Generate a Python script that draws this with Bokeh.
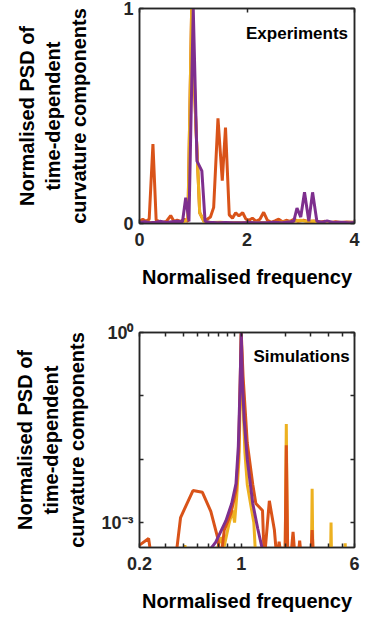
from bokeh.plotting import figure
from bokeh.layouts import column
from bokeh.models import FixedTicker, LinearAxis, LogAxis, Label
from bokeh.embed import file_html
from bokeh.resources import INLINE

# ---------------- data: experiments (linear axes) ----------------
exp_orange_x = [0.00, 0.06, 0.12, 0.18, 0.25, 0.31, 0.37, 0.43, 0.50, 0.58,
                0.64, 0.70, 0.77, 0.83, 0.90, 0.97, 1.05, 1.12, 1.20, 1.26,
                1.32, 1.38, 1.46, 1.54, 1.60, 1.67, 1.73, 1.79, 1.85, 1.92,
                1.98, 2.04, 2.10, 2.17, 2.24, 2.31, 2.38, 2.45, 2.52, 2.59,
                2.66, 2.73, 2.80, 2.88, 2.95, 3.05, 3.15, 3.25, 3.35, 3.45,
                3.55, 3.65, 3.75, 3.85, 4.00]
exp_orange_y = [0.010, 0.020, 0.010, 0.020, 0.370, 0.015, 0.010, 0.005, 0.010, 0.037,
                0.010, 0.015, 0.010, 0.020, 0.010, 1.000, 0.450, 0.050, 0.010, 0.020,
                0.030, 0.075, 0.489, 0.199, 0.446, 0.040, 0.025, 0.050, 0.035, 0.050,
                0.020, 0.015, 0.025, 0.010, 0.020, 0.052, 0.015, 0.005, 0.012, 0.020,
                0.008, 0.015, 0.010, 0.020, 0.010, 0.015, 0.008, 0.012, 0.006, 0.010,
                0.005, 0.008, 0.005, 0.007, 0.006]

exp_yellow_x = [0.00, 0.15, 0.30, 0.45, 0.60, 0.75, 0.84, 0.90, 0.97, 1.05,
                1.12, 1.20, 1.35, 1.50, 1.65, 1.80, 2.00, 2.20, 2.40, 2.60,
                2.80, 3.00, 3.10, 3.20, 3.40, 3.60, 3.80, 4.00]
exp_yellow_y = [0.004, 0.006, 0.003, 0.005, 0.004, 0.006, 0.010, 0.020, 1.000, 0.450,
                0.050, 0.008, 0.005, 0.006, 0.004, 0.005, 0.003, 0.005, 0.004, 0.006,
                0.008, 0.015, 0.010, 0.012, 0.005, 0.004, 0.005, 0.003]

exp_purple_x = [0.00, 0.10, 0.20, 0.30, 0.40, 0.50, 0.60, 0.70, 0.80, 0.86, 0.92,
                1.00, 1.07, 1.16, 1.22, 1.30,
                1.45, 1.60, 1.75, 1.90, 2.05, 2.20, 2.35, 2.50, 2.65, 2.80,
                2.87, 2.93, 3.00, 3.07, 3.15, 3.22, 3.30, 3.40, 3.49, 3.60,
                3.75, 3.90, 4.00]
exp_purple_y = [0.005, 0.008, 0.004, 0.006, 0.010, 0.005, 0.008, 0.010, 0.008, 0.120, 0.010,
                1.000, 0.290, 0.245, 0.010, 0.006,
                0.004, 0.005, 0.003, 0.004, 0.005, 0.003, 0.004, 0.006, 0.004, 0.008,
                0.010, 0.072, 0.030, 0.145, 0.010, 0.145, 0.010, 0.006, 0.012, 0.005,
                0.006, 0.004, 0.005]

# ---------------- data: simulations (log axes) ----------------
sim_orange_x = [0.200, 0.231, 0.243, 0.300, 0.353, 0.383, 0.466, 0.541, 0.618, 0.687,
                0.724, 0.764, 0.850, 0.920, 0.960, 1.000, 1.030, 1.100, 1.200, 1.260,
                1.400, 1.440, 1.560, 1.690, 1.760, 1.820, 1.900, 2.000, 2.040, 2.090,
                2.180, 2.270, 2.350, 2.450, 2.520, 2.600, 2.900, 3.000, 3.070, 3.140,
                3.600, 4.200, 5.000, 6.000]
sim_orange_y = [4.4e-4, 5.6e-4, 2.5e-4, 2.0e-4, 2.5e-4, 1.2e-3, 3.2e-3, 3.0e-3, 1.5e-3, 5.9e-4,
                2.5e-4, 7.6e-4, 1.4e-3, 3.2e-3, 1.3e-2, 1.0, 2.0e-1, 1.8e-2, 4.0e-3, 2.0e-3,
                1.55e-3, 2.5e-4, 2.2e-3, 7.6e-4, 2.5e-4, 5.0e-4, 2.5e-4, 2.5e-4, 1.66e-2, 2.5e-4,
                2.5e-4, 7.1e-4, 2.5e-4, 2.5e-4, 5.2e-4, 2.5e-4, 2.5e-4, 2.5e-4, 7.6e-4, 2.5e-4,
                2.0e-4, 2.5e-4, 2.0e-4, 2.5e-4]

sim_yellow_x = [0.200, 0.390, 0.410, 0.430, 0.650, 0.724, 0.760, 0.826, 0.873, 0.900,
                0.930, 0.965, 0.985, 1.000, 1.020, 1.060, 1.100, 1.170, 1.220, 1.260,
                2.000, 2.040, 2.080, 3.030, 3.070, 3.110, 4.100, 4.140, 4.180, 5.140,
                5.180, 5.220, 6.000]
sim_yellow_y = [2.0e-4, 2.0e-4, 4.4e-4, 2.0e-4, 2.5e-4, 5.9e-4, 4.0e-4, 9.8e-4, 1.55e-3, 1.0e-3,
                2.5e-3, 1.0e-2, 1.0e-1, 1.0, 1.26e-1, 1.26e-2, 4.0e-3, 1.74e-3, 1.0e-3, 2.5e-4,
                2.0e-4, 3.6e-2, 2.0e-4, 2.0e-4, 3.4e-3, 2.0e-4, 2.0e-4, 1.0e-3, 2.0e-4, 2.0e-4,
                4.7e-4, 2.0e-4, 2.0e-4]

sim_purple_x = [0.580, 0.668, 0.785, 0.860, 0.920, 0.955, 0.980, 1.000, 1.020, 1.048,
                1.100, 1.200, 1.300, 1.420]
sim_purple_y = [3.2e-4, 4.9e-4, 1.07e-3, 2.0e-3, 4.1e-3, 1.6e-2, 1.26e-1, 1.0, 1.6e-1, 4.1e-2,
                1.0e-2, 2.0e-3, 7.9e-4, 3.2e-4]

# ---------------- ticks / labels ----------------
exp_xticks = [0, 2, 4]
exp_yticks = [0, 1]
sim_xticks = [0.2, 1, 6]
sim_xminor = [0.3, 0.4, 0.5, 0.6, 0.7, 0.8, 0.9, 2, 3, 4, 5]
sim_yticks = [1e-3, 1]
sim_yminor = [1e-2, 1e-1]
sim_ylabels = {1e-3: "10\u207b\u00b3", 1: "10\u2070"}
sim_xlabels = {0.2: "0.2", 1: "1", 6: "6"}

ylab = "Normalised PSD of\ntime-dependent\ncurvature components"
xlab = "Normalised frequency"

ORANGE = "#D95319"
YELLOW = "#EDB120"
PURPLE = "#7E2F8E"
AX = "#262626"
FONT = "Liberation Sans"
LW = 3


def tick_style(ax):
    ax.axis_line_color = AX
    ax.axis_line_width = 1.5
    ax.major_tick_line_color = AX
    ax.minor_tick_line_color = AX
    ax.major_tick_line_width = 1.5
    ax.minor_tick_line_width = 1.5
    ax.major_tick_in = 4
    ax.major_tick_out = 0
    ax.minor_tick_in = 4
    ax.minor_tick_out = 0


def style(p, ylabel_standoff):
    p.grid.visible = False
    p.outline_line_color = AX
    p.outline_line_width = 1.5
    for ax in p.xaxis + p.yaxis:
        tick_style(ax)
        ax.major_label_text_font = FONT
        ax.major_label_text_font_style = "bold"
        ax.major_label_text_font_size = "18px"
        ax.major_label_text_color = AX
        ax.axis_label_text_font = FONT
        ax.axis_label_text_font_style = "bold"
        ax.axis_label_text_font_size = "20px"
        ax.axis_label_text_color = "black"
    p.xaxis.major_label_standoff = 9
    p.xaxis.axis_label_standoff = 17
    p.yaxis.major_label_standoff = 6
    p.yaxis.axis_label_standoff = ylabel_standoff
    p.xaxis.axis_label = xlab
    p.yaxis.axis_label = ylab


def mirror(p, AxisCls, xt, yt):
    # tick marks only (no labels) on the top and right edges
    top = AxisCls(ticker=FixedTicker(ticks=[], minor_ticks=xt))
    right = AxisCls(ticker=FixedTicker(ticks=[], minor_ticks=yt))
    for ax in (top, right):
        tick_style(ax)
        ax.major_label_standoff = 0
        ax.axis_label = None
    p.add_layout(top, "above")
    p.add_layout(right, "right")


# ---------------- top: experiments ----------------
p1 = figure(width=378, height=300, x_range=(0, 4), y_range=(0, 1),
            output_backend="svg", toolbar_location=None,
            min_border_left=139, min_border_right=24,
            min_border_top=8, min_border_bottom=77)
p1.line(exp_orange_x, exp_orange_y, color=ORANGE, line_width=LW)
p1.line(exp_yellow_x, exp_yellow_y, color=YELLOW, line_width=LW)
p1.line(exp_purple_x, exp_purple_y, color=PURPLE, line_width=LW)
p1.xaxis.ticker = FixedTicker(ticks=exp_xticks, minor_ticks=[])
p1.yaxis.ticker = FixedTicker(ticks=exp_yticks, minor_ticks=[])
style(p1, 30)
mirror(p1, LinearAxis, exp_xticks, exp_yticks)
p1.add_layout(Label(x=3.88, y=0.885, text="Experiments", text_align="right",
                    text_baseline="alphabetic", text_font=FONT,
                    text_font_style="bold", text_font_size="17px", text_color="black"))

# ---------------- bottom: simulations ----------------
p2 = figure(width=378, height=319, x_range=(0.2, 6), y_range=(10 ** -3.394, 1),
            x_axis_type="log", y_axis_type="log",
            output_backend="svg", toolbar_location=None,
            min_border_left=139, min_border_right=24,
            min_border_top=32, min_border_bottom=72)
p2.line(sim_yellow_x, sim_yellow_y, color=YELLOW, line_width=LW)
p2.line(sim_orange_x, sim_orange_y, color=ORANGE, line_width=LW)
p2.line(sim_purple_x, sim_purple_y, color=PURPLE, line_width=LW)
p2.xaxis.ticker = FixedTicker(ticks=sim_xticks, minor_ticks=sim_xminor)
p2.yaxis.ticker = FixedTicker(ticks=sim_yticks, minor_ticks=sim_yminor)
p2.xaxis.major_label_overrides = sim_xlabels
p2.yaxis.major_label_overrides = sim_ylabels
style(p2, 10)
mirror(p2, LogAxis, sim_xticks + sim_xminor, sim_yticks + sim_yminor)
p2.add_layout(Label(x=5.57, y=0.414, text="Simulations", text_align="right",
                    text_baseline="alphabetic", text_font=FONT,
                    text_font_style="bold", text_font_size="17px", text_color="black"))

layout = column(p1, p2, spacing=0)
open("out.html", "w").write(file_html(layout, INLINE))
